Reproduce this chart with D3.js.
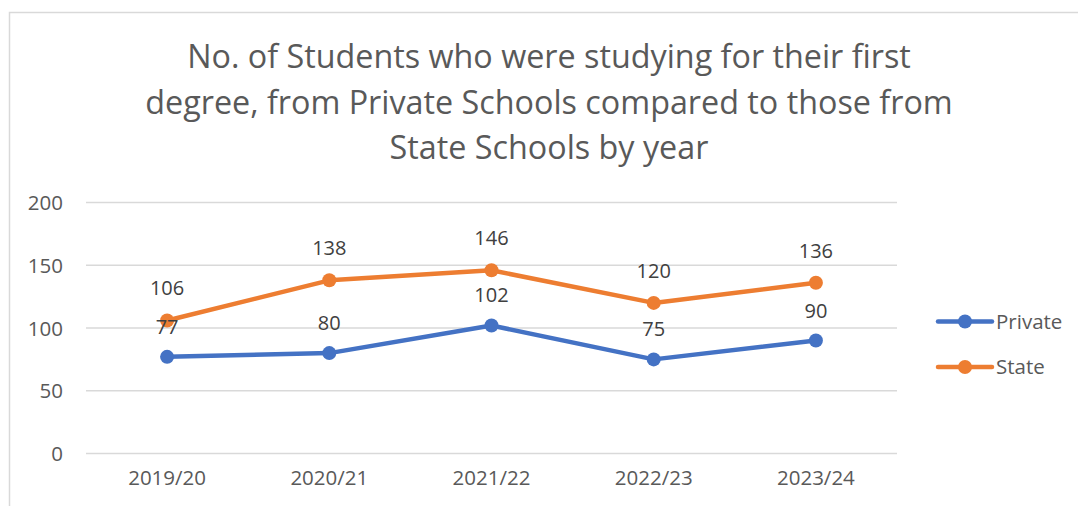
<!DOCTYPE html>
<html><head><meta charset="utf-8">
<script src="https://cdn.jsdelivr.net/npm/d3@7"></script>
<style>
html,body{margin:0;padding:0;background:#fff;}
svg{display:block;font-family:"Open Sans",Lato,sans-serif;}
</style></head>
<body>
<svg id="chart" width="1078" height="506"></svg>
<script>
const categories = ["2019/20","2020/21","2021/22","2022/23","2023/24"];
const privateValues = [77,80,102,75,90];
const stateValues = [106,138,146,120,136];
const yTicks = [0,50,100,150,200];
const seriesNames = ["Private","State"];
const titleLines = ["No. of Students who were studying for their first","degree, from Private Schools compared to those from","State Schools by year"];

const colors = {Private:"#4472C4", State:"#ED7D31"};
const textColor = "#595959";
const FONT = "'Open Sans',Lato,sans-serif";
const svg = d3.select("#chart");

// chart border
svg.append("rect").attr("x",9.5).attr("y",12.5).attr("width",1100).attr("height",600)
  .attr("fill","none").attr("stroke","#D9D9D9").attr("stroke-width",1.5);

// title
svg.append("g").selectAll("text").data(titleLines).join("text")
  .attr("x",549).attr("y",(d,i)=>68+i*45.5)
  .attr("text-anchor","middle").attr("font-size",32.3).attr("fill",textColor)
  .text(d=>d);

const x = d3.scaleBand().domain(categories).range([86,897]);
const y = d3.scaleLinear().domain([0,200]).range([453.5,202.5]);
const cx = d => x(d)+x.bandwidth()/2;

// gridlines
svg.append("g").selectAll("line").data(yTicks).join("line")
  .attr("x1",86).attr("x2",897).attr("y1",d=>y(d)).attr("y2",d=>y(d))
  .attr("stroke","#D9D9D9").attr("stroke-width",1.5);

// y axis
const yAxis = d3.axisLeft(y).tickValues(yTicks).tickSize(0).tickPadding(0);
const yg = svg.append("g").attr("transform","translate(63,0)").call(yAxis);
yg.select(".domain").remove();
yg.selectAll("text").attr("font-size",20.5).attr("fill",textColor).attr("font-family",FONT).attr("dy","0.35em");

// x axis
const xAxis = d3.axisBottom(x).tickSize(0).tickPadding(0);
const xg = svg.append("g").attr("transform","translate(0,478)").call(xAxis);
xg.select(".domain").remove();
xg.selectAll("text").attr("font-size",20.5).attr("fill",textColor).attr("font-family",FONT).attr("dy","0.35em");

const series = [
  {name:"Private", values:privateValues, labelOff:-30},
  {name:"State", values:stateValues, labelOff:-32}
];
const line = d3.line().x((d,i)=>cx(categories[i])).y(d=>y(d));

series.forEach(s=>{
  svg.append("path").attr("d",line(s.values)).attr("fill","none")
    .attr("stroke",colors[s.name]).attr("stroke-width",4.5).attr("stroke-linejoin","round").attr("stroke-linecap","round");
  svg.append("g").selectAll("circle").data(s.values).join("circle")
    .attr("cx",(d,i)=>cx(categories[i])).attr("cy",d=>y(d)).attr("r",7)
    .attr("fill",colors[s.name]);
});
series.forEach(s=>{
  svg.append("g").selectAll("text").data(s.values).join("text")
    .attr("x",(d,i)=>cx(categories[i])).attr("y",d=>y(d)+s.labelOff)
    .attr("dy","0.35em").attr("text-anchor","middle").attr("font-size",20).attr("fill","#404040")
    .text(d=>d);
});

// legend
const leg = svg.append("g");
seriesNames.forEach((n,i)=>{
  const ly = 321.5 + i*45.5;
  leg.append("line").attr("x1",938).attr("x2",992).attr("y1",ly).attr("y2",ly)
    .attr("stroke",colors[n]).attr("stroke-width",4.5).attr("stroke-linecap","round");
  leg.append("circle").attr("cx",965).attr("cy",ly).attr("r",7).attr("fill",colors[n]);
  leg.append("text").attr("x",996).attr("y",ly).attr("dy","0.35em").attr("font-size",20.5)
    .attr("fill",textColor).text(n);
});
</script>
</body></html>
